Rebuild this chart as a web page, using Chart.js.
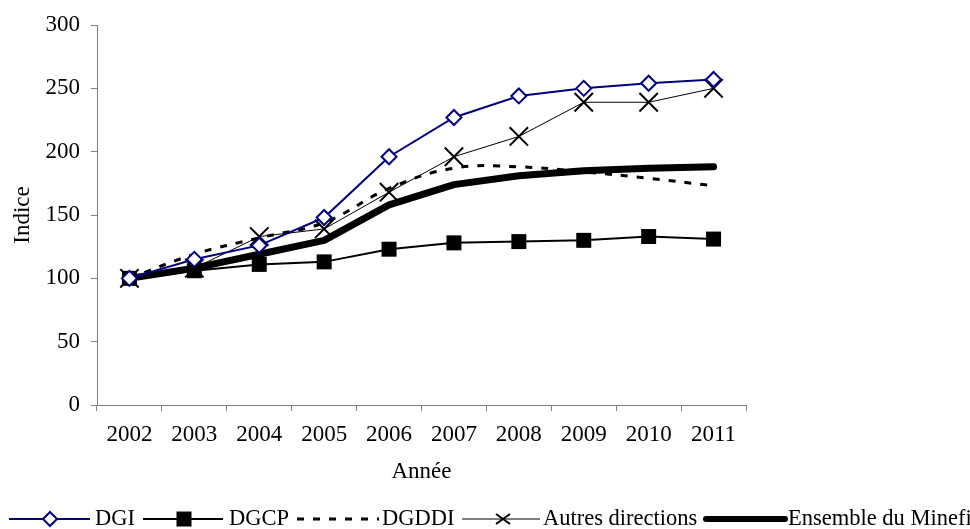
<!DOCTYPE html>
<html>
<head>
<meta charset="utf-8">
<script src="https://cdn.jsdelivr.net/npm/chart.js@4"></script>
<style>
  html, body { margin: 0; padding: 0; background: #fff; }
  #wrap { position: relative; width: 970px; height: 529px; overflow: hidden; }
  #c { position: absolute; left: 0; top: 0; }
  .lg { position: absolute; top: 505px; font-family: "Liberation Serif", "Times New Roman", serif; font-size: 22.5px; line-height: 26px; color: #000; white-space: nowrap; }
  #lgsvg { position: absolute; left: 0; top: 495px; }
</style>
</head>
<body>
<div id="wrap">
  <canvas id="c" width="970" height="529"></canvas>
  <svg id="lgsvg" width="970" height="34">
    <line x1="9" y1="24" x2="90" y2="24" stroke="#000080" stroke-width="2"/>
    <polygon points="50,17 57,24 50,31 43,24" fill="#fff" stroke="#000080" stroke-width="2"/>
    <line x1="143" y1="24" x2="223" y2="24" stroke="#000" stroke-width="2"/>
    <rect x="176.5" y="16.5" width="15" height="15" fill="#000"/>
    <line x1="297" y1="24" x2="379" y2="24" stroke="#000" stroke-width="3" stroke-dasharray="7,9"/>
    <line x1="462" y1="24" x2="540" y2="24" stroke="#000" stroke-width="1"/>
    <line x1="496" y1="19" x2="510" y2="29" stroke="#000" stroke-width="2"/>
    <line x1="496" y1="29" x2="510" y2="19" stroke="#000" stroke-width="2"/>
    <line x1="706" y1="24" x2="785" y2="24" stroke="#000" stroke-width="6" stroke-linecap="round"/>
  </svg>
  <div class="lg" style="left:95px">DGI</div>
  <div class="lg" style="left:229px">DGCP</div>
  <div class="lg" style="left:382px">DGDDI</div>
  <div class="lg" style="left:543px">Autres directions</div>
  <div class="lg" style="left:788px">Ensemble du Minefi</div>
</div>
<script>
const years = ['2002','2003','2004','2005','2006','2007','2008','2009','2010','2011'];
const dgi      = [100, 115, 126, 148, 196, 227, 244, 250, 254, 257];
const dgcp     = [100, 106, 111, 113, 123, 128, 129, 130, 133, 131];
const autres   = [100, 108, 133, 139, 168, 196, 212, 239, 239, 250];
const dgddi    = [100, 119, 132, 144, 171, 187, 188, 184, 179, 173];
const ensemble = [100, 108, 119, 130, 158, 174, 181, 185, 187, 188];
const yTitle = 'Indice';
const xTitle = 'Année';

const FONT = '"Liberation Serif", "Times New Roman", serif';
const axisGray = '#808080';

new Chart(document.getElementById('c'), {
  type: 'line',
  data: {
    labels: years,
    datasets: [
      { label: 'DGI', data: dgi, borderColor: '#000080', borderWidth: 2,
        pointStyle: 'rectRot', pointRadius: 7.5, pointBackgroundColor: '#fff',
        pointBorderColor: '#000080', pointBorderWidth: 2, tension: 0 },
      { label: 'DGCP', data: dgcp, borderColor: '#000', borderWidth: 2,
        pointStyle: 'rect', pointRadius: 10.6, pointBackgroundColor: '#000',
        pointBorderColor: '#000', pointBorderWidth: 0, tension: 0 },
      { label: 'Autres directions', data: autres, borderColor: '#000', borderWidth: 1,
        pointStyle: 'crossRot', pointRadius: 13, pointBorderColor: '#000',
        pointBorderWidth: 2, tension: 0 },
      { label: 'DGDDI', data: dgddi, borderColor: '#000', borderWidth: 3,
        borderDash: [7, 9], pointRadius: 0, tension: 0.4 },
      { label: 'Ensemble du Minefi', data: ensemble, borderColor: '#000', borderWidth: 7,
        borderCapStyle: 'round', borderJoinStyle: 'round', pointRadius: 0, tension: 0 }
    ]
  },
  options: {
    responsive: false,
    animation: false,
    devicePixelRatio: 1,
    clip: false,
    layout: { padding: { top: 25, right: 224, bottom: 0, left: 0 } },
    plugins: { legend: { display: false }, tooltip: { enabled: false } },
    elements: { point: { hoverRadius: 0 } },
    scales: {
      x: {
        offset: true,
        afterFit: (s) => { s.height = 124; },
        grid: { display: true, offset: true, drawOnChartArea: false, drawTicks: true,
                tickLength: 6, color: axisGray },
        border: { display: true, color: axisGray, width: 1 },
        ticks: { color: '#000', font: { family: FONT, size: 23 }, padding: 10,
                 maxRotation: 0, autoSkip: false },
        title: { display: true, text: xTitle, color: '#000',
                 font: { family: FONT, size: 23 }, padding: { top: 0, bottom: 43 } }
      },
      y: {
        min: 0, max: 300,
        afterFit: (s) => { s.width = 97; },
        grid: { display: true, drawOnChartArea: false, drawTicks: true,
                tickLength: 6, color: axisGray },
        border: { display: true, color: axisGray, width: 1 },
        ticks: { stepSize: 50, color: '#000', font: { family: FONT, size: 23 }, padding: 11 },
        title: { display: true, text: yTitle, color: '#000',
                 font: { family: FONT, size: 23 }, padding: { top: 9, bottom: 0 } }
      }
    }
  }
});
</script>
</body>
</html>
